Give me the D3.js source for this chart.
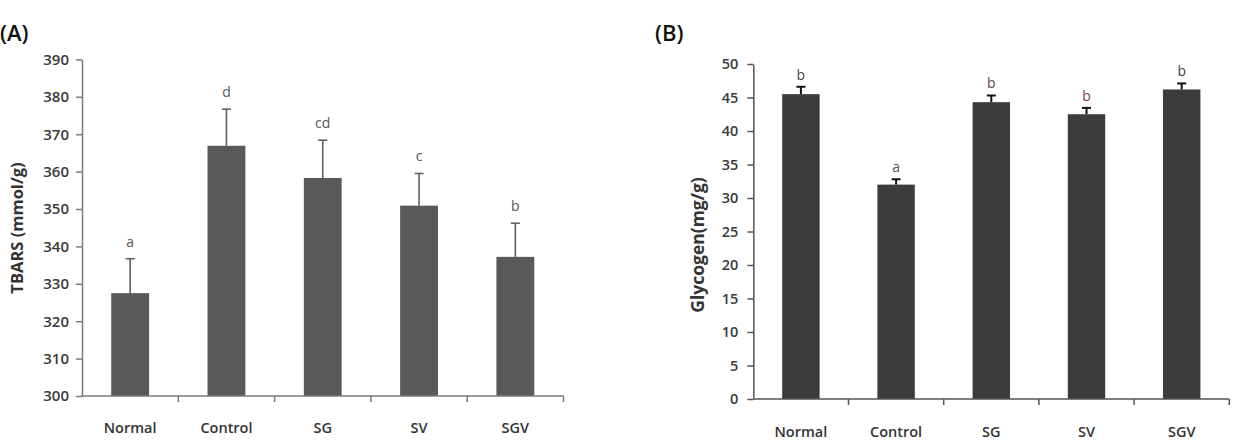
<!DOCTYPE html>
<html>
<head>
<meta charset="utf-8">
<script src="https://cdn.jsdelivr.net/npm/d3@7"></script>
<style>
  html, body { margin: 0; padding: 0; background: #fff; }
  svg { display: block; }
  text { font-family: "Open Sans", "Noto Sans", sans-serif; }
</style>
</head>
<body>
<svg id="chart" width="1235" height="443"></svg>
<script>
// ---- data ----
const categories = ["Normal", "Control", "SG", "SV", "SGV"];

const tbarsValues = [327.5, 366.9, 358.3, 350.9, 337.2];
const tbarsErrors = [9.2, 9.8, 10.1, 8.6, 9.0];
const tbarsLetters = ["a", "d", "cd", "c", "b"];
const tbarsTicks = [300, 310, 320, 330, 340, 350, 360, 370, 380, 390];

const glycogenValues = [45.5, 32.0, 44.3, 42.5, 46.2];
const glycogenErrors = [1.1, 0.8, 1.0, 0.95, 0.9];
const glycogenLetters = ["b", "a", "b", "b", "b"];
const glycogenTicks = [0, 5, 10, 15, 20, 25, 30, 35, 40, 45, 50];

const svg = d3.select("#chart");

function panel(cfg) {
  const g = svg.append("g");
  const x = d3.scaleBand().domain(categories).range([cfg.x0, cfg.x1])
    .paddingInner(0.607).paddingOuter(0.3035);
  const xEdge = d3.scaleBand().domain(categories).range([cfg.x0, cfg.x1]).padding(0);
  const y = d3.scaleLinear().domain(cfg.domain).range([cfg.y0, cfg.y1]);

  // bars
  g.selectAll("rect.bar").data(categories).join("rect")
    .attr("class", "bar")
    .attr("x", d => x(d))
    .attr("width", x.bandwidth())
    .attr("y", (d, i) => y(cfg.values[i]))
    .attr("height", (d, i) => y(cfg.domain[0]) - y(cfg.values[i]))
    .attr("fill", cfg.barColor);

  // error bars (upper only)
  const cx = d => x(d) + x.bandwidth() / 2;
  g.selectAll("line.err").data(categories).join("line")
    .attr("x1", cx).attr("x2", cx)
    .attr("y1", (d, i) => y(cfg.values[i]))
    .attr("y2", (d, i) => y(cfg.values[i] + cfg.errors[i]))
    .attr("stroke", cfg.errColor).attr("stroke-width", cfg.errWidth);
  g.selectAll("line.cap").data(categories).join("line")
    .attr("x1", d => cx(d) - 4.5).attr("x2", d => cx(d) + 4.5)
    .attr("y1", (d, i) => y(cfg.values[i] + cfg.errors[i]))
    .attr("y2", (d, i) => y(cfg.values[i] + cfg.errors[i]))
    .attr("stroke", cfg.errColor).attr("stroke-width", cfg.errWidth);

  // significance letters
  g.selectAll("text.letter").data(categories).join("text")
    .attr("x", cx)
    .attr("y", (d, i) => y(cfg.values[i] + cfg.errors[i]) - cfg.letterGap)
    .attr("text-anchor", "middle")
    .attr("font-size", 14)
    .attr("fill", (d, i) => cfg.letterColors[i])
    .text((d, i) => cfg.letters[i]);

  // y axis
  const yAxis = d3.axisLeft(y).tickValues(cfg.ticks).tickSize(6).tickPadding(cfg.tickPad).tickSizeOuter(0);
  const ya = g.append("g").attr("transform", `translate(${cfg.x0},0)`).call(yAxis);
  ya.select(".domain").attr("stroke", cfg.axisColor).attr("stroke-width", 1.5);
  ya.selectAll(".tick line").attr("stroke", cfg.axisColor).attr("stroke-width", 1.5);
  ya.selectAll(".tick text").attr("font-family", "Open Sans").attr("font-weight", 600)
    .attr("font-size", cfg.tickFont).attr("fill", "#3a3a3a");

  // x axis line + boundary ticks
  const y0 = y(cfg.domain[0]);
  g.append("line").attr("x1", cfg.x0).attr("x2", cfg.x1).attr("y1", y0).attr("y2", y0)
    .attr("stroke", cfg.axisColor).attr("stroke-width", 1.5);
  const edges = categories.map(d => xEdge(d) + xEdge.bandwidth());
  g.selectAll("line.xt").data(edges).join("line")
    .attr("x1", d => d).attr("x2", d => d).attr("y1", y0).attr("y2", y0 + 6)
    .attr("stroke", cfg.axisColor).attr("stroke-width", 1.5);

  // x labels
  g.selectAll("text.xl").data(categories).join("text")
    .attr("x", cx).attr("y", cfg.xLabelY)
    .attr("text-anchor", "middle")
    .attr("font-weight", 600).attr("font-size", 14.5).attr("fill", "#333")
    .text(d => d);

  // y title
  g.append("text")
    .attr("transform", `translate(${cfg.titleX},${cfg.titleY}) rotate(-90)`)
    .attr("text-anchor", "middle")
    .attr("font-weight", 700).attr("font-size", cfg.titleFont).attr("fill", "#333")
    .text(cfg.title);

  // panel label
  g.append("text").attr("x", cfg.panelX).attr("y", 41)
    .attr("font-size", 22).attr("font-weight", 600).attr("fill", "#111")
    .text(cfg.panel);
}

panel({
  x0: 82, x1: 563.5, y0: 396, y1: 59.4, domain: [300, 390],
  values: tbarsValues, errors: tbarsErrors, letters: tbarsLetters, ticks: tbarsTicks,
  letterColors: ["#555", "#555", "#555", "#555", "#555"],
  barColor: "#595959", errColor: "#606060", errWidth: 1.6, axisColor: "#7a7a7a",
  letterGap: 12, tickPad: 7, tickFont: 15,
  xLabelY: 433, title: "TBARS (mmol/g)", titleX: 23, titleY: 228, titleFont: 16.5,
  panel: "(A)", panelX: 0
});

panel({
  x0: 753.3, x1: 1229.3, y0: 399, y1: 64, domain: [0, 50],
  values: glycogenValues, errors: glycogenErrors, letters: glycogenLetters, ticks: glycogenTicks,
  letterColors: ["#444", "#555", "#5a4550", "#7a3a55", "#4a4050"],
  barColor: "#3c3c3c", errColor: "#111", errWidth: 2, axisColor: "#555",
  letterGap: 7, tickPad: 9, tickFont: 14.5,
  xLabelY: 437, title: "Glycogen(mg/g)", titleX: 704, titleY: 245, titleFont: 17.5,
  panel: "(B)", panelX: 655
});
</script>
</body>
</html>
